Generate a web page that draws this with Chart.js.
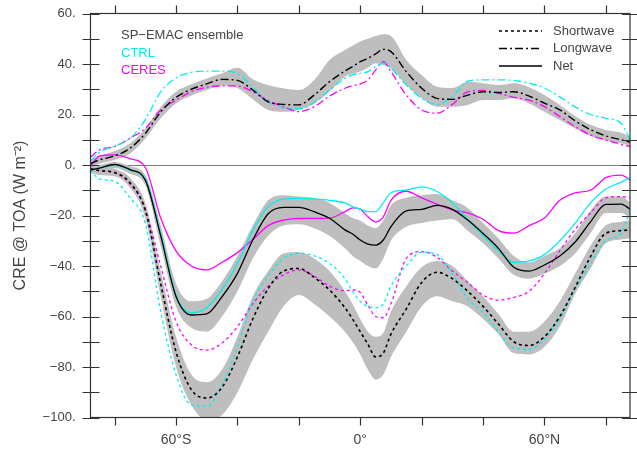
<!DOCTYPE html>
<html><head><meta charset="utf-8">
<script src="https://cdn.jsdelivr.net/npm/chart.js@4/dist/chart.umd.min.js"></script>
<style>html,body{margin:0;padding:0;background:#fff}canvas{display:block}</style>
</head><body>
<canvas id="c" width="637" height="449" style="width:637px;height:449px"></canvas>
<script>
// Latitudes (degrees, negative = south)
const lats = [-87.9,-85,-80,-75,-70,-65,-60,-55,-50,-45,-40,-35,-30,-25,-20,-15,-10,-5,-2.5,0,2.5,5,7.5,10,15,20,25,30,35,40,45,50,55,60,65,70,75,80,85,87.9];

// SP-EMAC ensemble mean and spread (W m-2)
const ensLW   = [0.5,2.0,3.6,6.6,12.5,21,26.8,30,32.1,33.9,33.5,29.7,25,24,23.8,27.7,33,37.2,39,40.9,42.3,44,45.8,44.9,37,30.4,26.4,26,27.7,29,28.7,29,27.3,24.5,21.8,17.5,14,11.5,10,9];
const ensLWhi = [2,3.5,5.5,8.5,14.5,23,29,32,34.3,36.3,38.5,34,31.7,30.4,29.7,33.7,41.6,45.5,47.2,48.9,50,51.1,51.8,51.1,41.6,35.6,31,30.5,33,32.4,31.7,32.4,30.8,27.7,23.8,19.4,15.9,13.9,12.8,11.2];
const ensLWlo = [-1,0.5,2,4.5,10.5,18.5,24.4,27.5,29.7,31.5,30.5,26,21.8,21.1,21.8,24.4,29.1,35,36,37,38.5,40.3,39.6,38.3,31.7,26.4,23.1,23.1,23.8,25.7,25.7,26.4,24.4,21.1,17.8,14.5,11.5,9.6,8.6,7.5];

const ensSW   = [-1.5,-2.2,-3,-7,-18,-47,-74,-89,-92.3,-88,-76,-61,-49,-42,-41,-44.5,-49.5,-56.5,-61,-66,-71,-76,-74.5,-67,-57,-46.5,-42.5,-45,-50,-56,-63,-70,-71.5,-68,-60,-48.5,-36.3,-27,-26,-25.7];
const ensSWhi = [0,-0.5,-1.5,-5,-15,-42,-68,-83,-86,-81,-68,-52,-42,-35,-34.5,-37,-42,-50,-55,-61,-66,-68,-66.5,-58,-48,-40.5,-38,-40,-46,-52,-59,-66,-66,-62,-54,-43,-32,-24,-22.5,-22];
const ensSWlo = [-3,-4,-4.5,-9,-21,-52,-80,-95,-101,-99,-90,-77,-66,-56,-51.5,-55,-60,-66,-70,-75,-81,-85,-83,-76,-66,-56,-52,-54,-56,-61,-67,-74.5,-75,-72,-64,-51,-41,-31,-29.5,-29];

const ensNet   = [-2,-1.2,0.2,-1.8,-6,-28,-52.1,-59.4,-59,-52.1,-42.9,-29.7,-19.3,-16.8,-16.8,-18.5,-21.1,-25.7,-27.3,-29.7,-31.3,-31.7,-29.7,-24.4,-18.2,-17.6,-16,-17.6,-21.8,-27.1,-33,-40.5,-42,-39.6,-36,-30.5,-22.5,-15.6,-15.5,-17.5];
const ensNetHi = [-0.5,0,1.2,-0.5,-4,-24,-47,-54,-53,-46,-36,-24,-14,-12,-12.5,-13,-15,-19,-21,-22,-24,-25,-22,-16,-13,-12,-11.5,-14,-17,-23,-29,-36,-38.5,-36,-33,-27,-18,-12.5,-12.5,-15];
const ensNetLo = [-3,-2.5,-1.2,-3.5,-8,-32,-56,-64.5,-66,-60,-50,-37,-28,-24,-23.5,-25,-28,-33,-36,-38,-40,-41,-37,-30,-24.5,-23,-22,-21.5,-26,-31,-37,-43.5,-45,-43,-40,-35,-27,-19,-19,-21];

// CTRL simulation
const ctrlLW  = [1.5,5,7.5,10.5,18,29,34.5,36.7,37.2,37.2,36.3,30.8,25.1,22.7,22.4,24.7,29.7,34.3,35.7,36.3,37,39,40.3,38.3,31.7,26.4,24,27,33.2,33.7,33.7,33.5,32.4,30.5,27,23,20,18.5,16.5,9.9];
const ctrlSW  = [-2,-5.5,-6.5,-13,-23,-58,-83,-95,-95.5,-87,-72,-54,-44,-37,-35,-36,-39,-45,-50,-54,-56,-56.5,-55,-48,-40,-34.5,-35.5,-43,-53,-58.5,-66,-72.5,-73,-69,-61,-49,-39,-30,-27,-18];
const ctrlNet = [-2,-1.3,0,-2,-5.5,-27,-51.5,-58.5,-56.5,-49.3,-38.9,-26,-16.5,-13.5,-13.2,-13.5,-14,-15,-16.5,-17.5,-18.5,-18.5,-15,-11,-9.9,-8.7,-10.5,-15,-21.5,-28,-34,-38.5,-38,-35.5,-30,-23,-15,-9.5,-6.8,-5];

// CERES observations
const ceresLW  = [3,5.9,7.3,10.6,14.5,21.8,25.7,29,30.8,31.3,31.3,29,25.5,23.1,21.1,23.1,27.3,30.4,31.4,32.1,33.7,37.6,40.9,37,27.7,21.8,20.5,24,29,29.5,28.4,26.8,25.7,23.1,19.2,15.2,11.9,9.9,8.2,7.3];
const ceresSW  = [-1.5,-2.3,-3,-7.5,-17.5,-40,-62,-71.3,-73.3,-70.5,-64,-55,-48,-43.5,-41.6,-44,-48,-49.8,-49.5,-50.5,-55.5,-60,-60.5,-55,-37,-34.3,-36.5,-42,-46.5,-51.5,-53.5,-52.5,-50,-43,-34,-25.5,-19,-13,-12.5,-13];
const ceresNet = [-0.5,3.5,4,2.5,-1,-21,-34,-40,-41.5,-38.5,-34.7,-29.5,-24,-21.8,-21.1,-21.1,-21,-18.5,-17,-17.5,-20.5,-22.5,-20.5,-14,-10.4,-13,-15.5,-17.8,-19,-21.5,-26,-27,-24,-21,-14,-11,-10,-5,-4,-6];

// Axis ticks
const xTicks = [-80,-60,-40,-20,0,20,40,60,80];
const xLabels = {"-60":"60°S","0":"0°","60":"60°N"};
const yTicks = [-100,-80,-60,-40,-20,0,20,40,60];
const yMinor = [-100,-90,-80,-70,-60,-50,-40,-30,-20,-10,0,10,20,30,40,50,60];

const FONT = '"Liberation Sans", Arial, Helvetica, sans-serif';
const TXT = '#444';
const CYAN = '#00eef0', MAG = '#ff00ff', BLK = '#000000', BAND = '#bebebe';
const SW_DASH = [3,3], LW_DASH = [8,3,2,3], NET_DASH = [];

const xy = arr => lats.map((x,i)=>({x:x, y:arr[i]}));
function band(hi, lo){
  return [
    {data:xy(hi), borderWidth:0, borderColor:'rgba(0,0,0,0)', pointRadius:0, fill:'+1', backgroundColor:BAND, order:20, cubicInterpolationMode:'monotone'},
    {data:xy(lo), borderWidth:0, borderColor:'rgba(0,0,0,0)', pointRadius:0, fill:false, order:21, cubicInterpolationMode:'monotone'}
  ];
}
function line(arr, color, dash, order, w){
  return {data:xy(arr), borderColor:color, borderWidth:w||1.3, borderDash:dash, pointRadius:0, fill:false, order:order, cubicInterpolationMode:'monotone'};
}

const datasets = [
  ...band(ensLWhi, ensLWlo),
  ...band(ensSWhi, ensSWlo),
  ...band(ensNetHi, ensNetLo),
  line(ceresLW, MAG, LW_DASH, 5),
  line(ceresSW, MAG, SW_DASH, 5),
  line(ceresNet, MAG, NET_DASH, 5),
  line(ctrlLW, CYAN, LW_DASH, 4),
  line(ctrlSW, CYAN, SW_DASH, 4),
  line(ctrlNet, CYAN, NET_DASH, 4),
  line(ensLW, BLK, LW_DASH, 1, 1.4),
  line(ensSW, BLK, SW_DASH, 1, 1.6),
  line(ensNet, BLK, NET_DASH, 1, 1.3)
];

const framePlugin = {
  id:'frame',
  beforeDatasetsDraw(chart){
    const {ctx, chartArea:a, scales:{y}} = chart;
    const y0 = Math.round(y.getPixelForValue(0))+0.5;
    ctx.save(); ctx.strokeStyle='#7a7a7a'; ctx.lineWidth=1;
    ctx.beginPath(); ctx.moveTo(a.left,y0); ctx.lineTo(a.right,y0); ctx.stroke();
    ctx.restore();
  },
  afterDraw(chart){
    const {ctx, chartArea:a, scales:{x,y}} = chart;
    ctx.save();
    ctx.strokeStyle='#333'; ctx.lineWidth=1.2;
    ctx.strokeRect(a.left, a.top, a.right-a.left, a.bottom-a.top);
    ctx.beginPath();
    yMinor.forEach(v=>{
      const py = Math.round(y.getPixelForValue(v))+0.5;
      ctx.moveTo(a.left-8, py); ctx.lineTo(a.left+9, py);
      ctx.moveTo(a.right-8, py); ctx.lineTo(a.right+7, py);
    });
    xTicks.forEach(v=>{
      const px = Math.round(x.getPixelForValue(v))+0.5;
      ctx.moveTo(px, a.top-8); ctx.lineTo(px, a.top);
      ctx.moveTo(px, a.bottom); ctx.lineTo(px, a.bottom+8);
    });
    ctx.stroke();

    // left legend (model names)
    ctx.font = '13px '+FONT; ctx.textBaseline='middle'; ctx.textAlign='left';
    ctx.fillStyle = TXT; ctx.fillText('SP−EMAC ensemble', 121, 35);
    ctx.fillStyle = CYAN; ctx.fillText('CTRL', 121, 53);
    ctx.fillStyle = MAG; ctx.fillText('CERES', 121, 70);

    // right legend (line styles)
    const items = [['Shortwave',SW_DASH,31,1.6],['Longwave',LW_DASH,48.5,1.4],['Net',NET_DASH,66,1.3]];
    items.forEach(([t,d,py,w])=>{
      ctx.strokeStyle=BLK; ctx.lineWidth=w; ctx.setLineDash(d);
      ctx.beginPath(); ctx.moveTo(499,py); ctx.lineTo(542,py); ctx.stroke();
      ctx.setLineDash([]);
      ctx.fillStyle=TXT; ctx.fillText(t, 553, py);
    });
    ctx.restore();
  }
};

new Chart(document.getElementById('c'), {
  type:'line',
  data:{datasets},
  options:{
    responsive:false, animation:false, devicePixelRatio:1,
    layout:{padding:{top:13.5, right:7, left:0, bottom:0}},
    plugins:{legend:{display:false}, tooltip:{enabled:false}},
    elements:{point:{radius:0}},
    scales:{
      x:{type:'linear', min:-87.86, max:87.86,
        afterBuildTicks:s=>{ s.ticks = xTicks.map(v=>({value:v})); },
        afterFit:s=>{ s.height = 31.5; s.paddingLeft = 0; s.paddingRight = 0; },
        grid:{display:false, drawTicks:false}, border:{display:false},
        ticks:{autoSkip:false, maxRotation:0, padding:14, color:TXT, font:{family:FONT, size:14},
          callback:v=> (xLabels[String(v)]||'')}
      },
      y:{type:'linear', min:-100, max:60,
        afterBuildTicks:s=>{ s.ticks = yTicks.map(v=>({value:v})); },
        afterFit:s=>{ s.width = 90.5; s.paddingTop = 0; s.paddingBottom = 0; },
        grid:{display:false, drawTicks:false}, border:{display:false},
        ticks:{padding:15, color:TXT, font:{family:FONT, size:13},
          callback:v=> (v<0?'−':'')+Math.abs(v)+'.'},
        title:{display:true, text:'CRE @ TOA (W m⁻²)', color:TXT, font:{family:FONT, size:16}, padding:{top:11,bottom:0}}
      }
    }
  },
  plugins:[framePlugin]
});
</script>
</body></html>
